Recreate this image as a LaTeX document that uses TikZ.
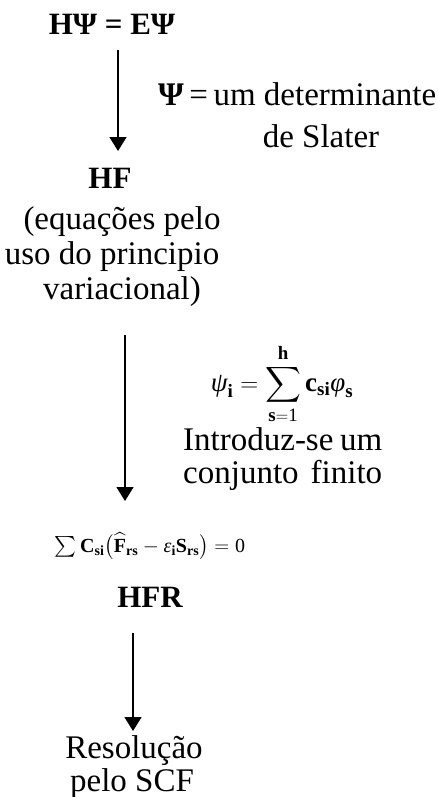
\documentclass[tikz,border=0pt]{standalone}
\usepackage{amsmath}
\usepackage{fontspec}
\setmainfont{Liberation Serif}
\usetikzlibrary{arrows.meta}
\tikzset{
  txt/.style={inner sep=0pt, anchor=base, font=\fontsize{33}{35}\selectfont},
  ttl/.style={inner sep=0pt, anchor=base, font=\fontsize{31}{33}\selectfont\bfseries},
  arr/.style={line width=1.5pt, -{Triangle[length=14pt,width=17pt]}}
}
\begin{document}
\begin{tikzpicture}[x=1pt,y=-1pt]
\useasboundingbox (0,0) rectangle (438,797);
% top equation
\node[ttl] (eq) at (112,35) {HΨ = EΨ};
\coordinate (a1s) at (118,50);
\coordinate (a1e) at (118,151);
\draw[arr] (a1s) -- (a1e);
\node[txt, anchor=base west] (l1) at (158,106) {\textbf{Ψ}\,=\,um determinante};
\node[txt] (l2) at (321,147) {de Slater};
% HF
\node[ttl] (hf) at (110,188) {HF};
\node[txt] (hf1) at (122,229) {(equações pelo};
\node[txt] (hf2) at (112,264) {uso do principio};
\node[txt] (hf3) at (122,299) {variacional)};
% arrow 2
\coordinate (a2s) at (125,335);
\coordinate (a2e) at (125,501);
\draw[arr] (a2s) -- (a2e);
\node[txt, font=\fontsize{27}{29}\selectfont] (psi) at (282,391)
  {$\displaystyle \textit{ψ}_{\mathbf{i}} = \sum_{\textbf{s}=\textup{1}}^{\textbf{h}} \mathbf{c}_{\mathbf{si}}\textit{φ}_{\mathbf{s}}$};
\node[txt, anchor=base west] (in1) at (183,450) {\makebox[199pt][s]{Introduz-se um}};
\node[txt, anchor=base west] (in2) at (183,483) {\makebox[199pt][s]{conjunto finito}};
% HFR equation
\node[txt, font=\fontsize{20}{22}\selectfont] (hfreq) at (150,552)
  {$\sum \mathbf{C}_{\mathbf{si}}\bigl(\widehat{\mathbf{F}}_{\mathbf{rs}} - \textit{ε}_{\mathbf{i}}\mathbf{S}_{\mathbf{rs}}\bigr) = \textup{0}$};
\node[ttl] (hfr) at (150,607) {HFR};
% arrow 3
\coordinate (a3s) at (133,633);
\coordinate (a3e) at (133,731);
\draw[arr] (a3s) -- (a3e);
\node[txt] (r1) at (134,758) {Resolução};
\node[txt] (r2) at (132,791) {pelo SCF};
\end{tikzpicture}
\end{document}
